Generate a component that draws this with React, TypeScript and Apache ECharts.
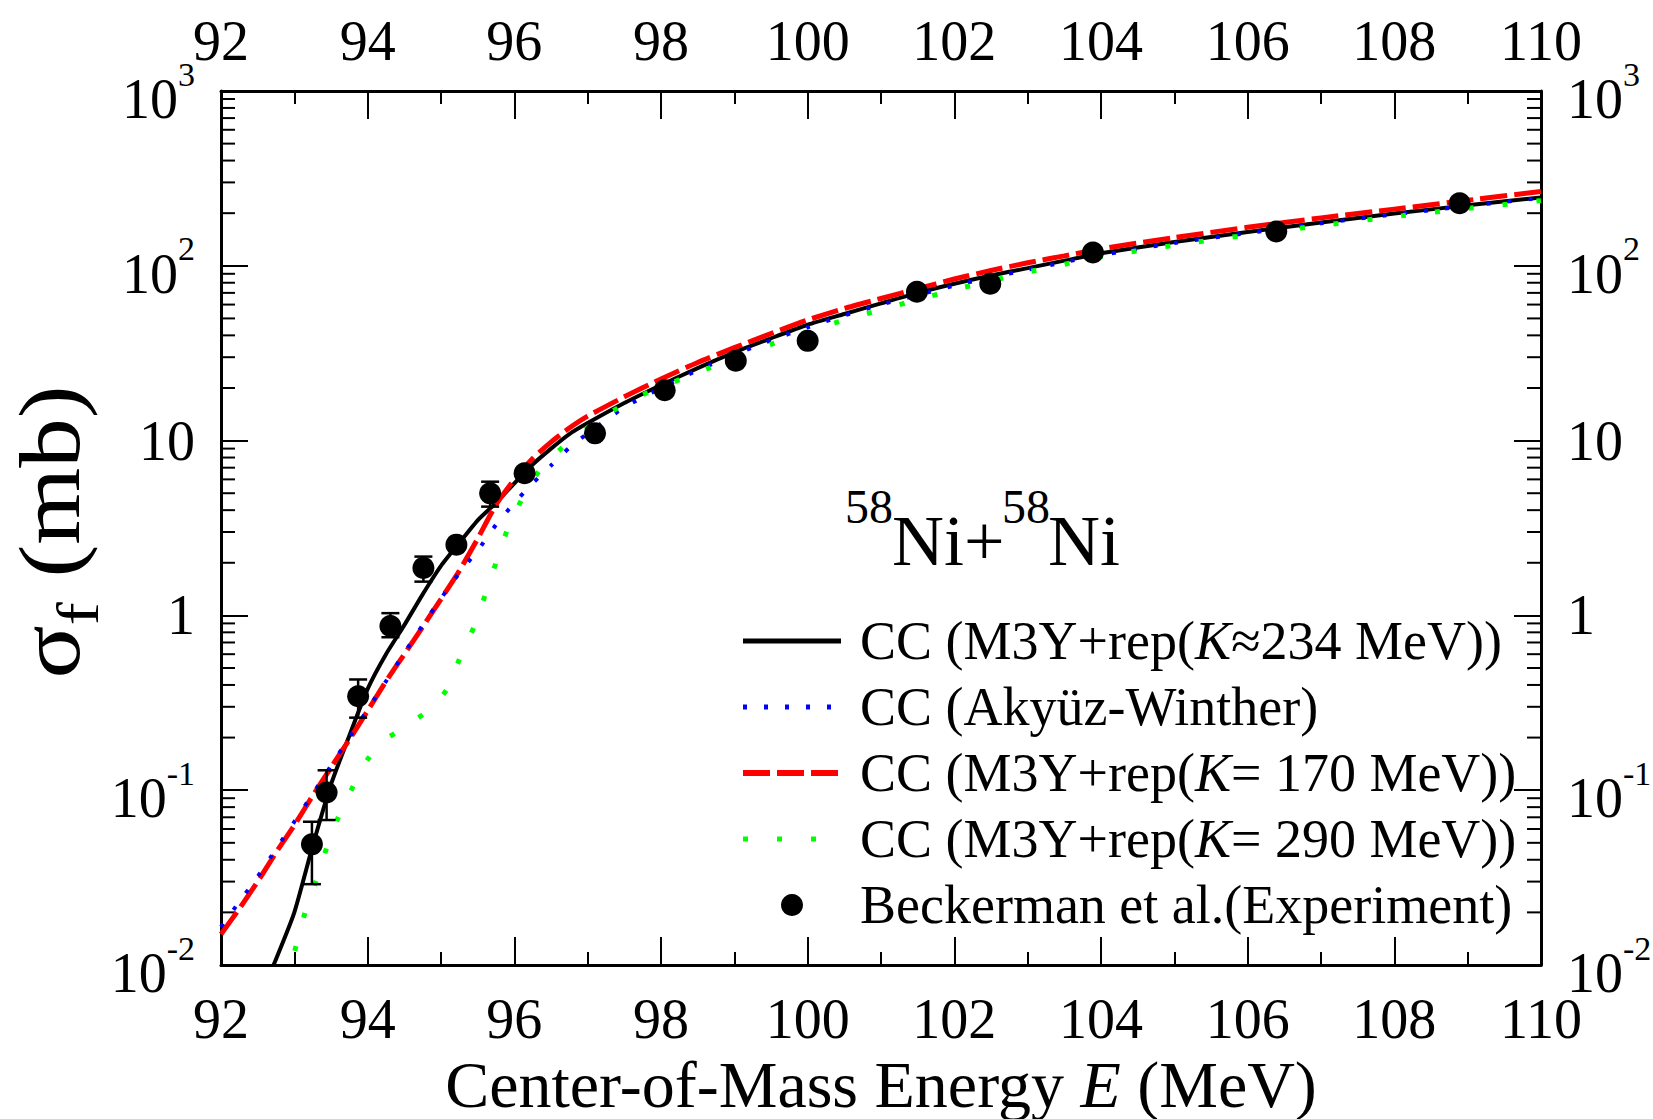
import React, { useEffect, useRef } from "react";
import * as echarts from "echarts";

const FONT = "'Liberation Serif', 'Times New Roman', Times, serif";

// CC (M3Y+rep(K≈234 MeV)) — black solid
const k234E = [92.6, 92.75, 93.0, 93.25, 93.5, 93.75, 94.0, 94.25, 94.5, 94.75, 95.0, 95.25, 95.5, 95.75, 96.0, 96.25, 96.5, 96.75, 97.0, 97.5, 98.0, 98.5, 99.0, 99.5, 100.0, 100.5, 101.0, 101.5, 102.0, 102.5, 103.0, 103.5, 104.0, 105, 106, 107, 108, 109, 110];
const k234S = [0.0078, 0.0108, 0.02, 0.048, 0.108, 0.205, 0.38, 0.6, 0.88, 1.32, 1.92, 2.6, 3.5, 4.4, 5.7, 7.3, 9.0, 10.9, 12.6, 16.4, 20.8, 26, 32, 38.5, 46, 53, 61, 70, 79, 88, 97, 107, 118, 137, 156, 177, 199, 222, 246];

// CC (M3Y+rep(K= 170 MeV)) — red dashed, and CC (Akyüz-Winther) — blue dotted
const k170E = [92.0, 92.25, 92.5, 92.75, 93.0, 93.25, 93.5, 93.75, 94.0, 94.25, 94.5, 94.75, 95.0, 95.25, 95.5, 95.75, 96.0, 96.25, 96.5, 96.75, 97.0, 97.5, 98.0, 98.5, 99.0, 99.5, 100.0, 100.5, 101.0, 101.5, 102.0, 102.5, 103.0, 103.5, 104.0, 105, 106, 107, 108, 109, 110];
const k170S = [0.015, 0.021, 0.03, 0.044, 0.063, 0.093, 0.135, 0.195, 0.285, 0.42, 0.6, 0.86, 1.24, 1.8, 2.75, 4.3, 6.0, 7.9, 9.8, 11.8, 13.8, 17.8, 22.5, 28, 34, 41, 49, 57, 65, 74, 84, 94, 104, 114, 125, 145, 166, 188, 211, 237, 266];
const awE = k170E;
const awS = [0.0165, 0.023, 0.032, 0.046, 0.066, 0.095, 0.138, 0.2, 0.29, 0.42, 0.61, 0.88, 1.25, 1.75, 2.35, 3.3, 4.4, 5.7, 7.2, 9.1, 11.0, 15.5, 20.0, 25.3, 31, 37.5, 44.5, 52, 60, 68, 77, 86, 95, 105, 115, 135, 154, 175, 197, 220, 245];

// CC (M3Y+rep(K= 290 MeV)) — green sparse dots
const k290E = [92.9, 93.0, 93.15, 93.3, 93.45, 93.6, 93.8, 94.0, 94.2, 94.4, 94.6, 94.8, 95.0, 95.1, 95.25, 95.45, 95.6, 95.75, 95.9, 96.1, 96.35, 96.7, 97.1, 97.5, 97.85, 98.5, 99.0, 99.5, 100.0, 100.5, 101.0, 101.5, 102.0, 102.5, 103.0, 103.5, 104.0, 105, 106, 107, 108, 109, 110];
const k290S = [0.0078, 0.0118, 0.0202, 0.0306, 0.048, 0.07, 0.105, 0.15, 0.19, 0.215, 0.245, 0.28, 0.34, 0.39, 0.56, 0.86, 1.3, 2.0, 3.05, 4.6, 6.8, 9.5, 12.7, 16.2, 19.1, 24.5, 29.5, 35.5, 42, 49, 56, 64, 73, 82, 92, 102, 113, 131, 150, 170, 191, 213, 236];

// Beckerman et al. (Experiment)
const expE = [93.24, 93.44, 93.87, 94.31, 94.76, 95.21, 95.67, 96.14, 97.1, 98.05, 99.02, 100.0, 101.49, 102.49, 103.89, 106.39, 108.89];
const expS = [0.049, 0.097, 0.345, 0.87, 1.87, 2.54, 4.99, 6.5, 11.0, 19.4, 28.6, 37.2, 71, 79, 119, 157, 228];
const errE = [93.24, 93.44, 93.87, 94.31, 94.76, 95.67];
const errLo = [0.029, 0.0675, 0.26, 0.75, 1.56, 4.19];
const errHi = [0.066, 0.13, 0.43, 1.03, 2.17, 5.82];

// minor log ticks (2..9 per decade)
const decadeExps = [-2, -1, 0, 1, 2];
const decadeMults = [2, 3, 4, 5, 6, 7, 8, 9];

const NAME_K234 = "CC (M3Y+rep(K≈234 MeV))";
const NAME_AW = "CC (Akyüz-Winther)";
const NAME_K170 = "CC (M3Y+rep(K= 170 MeV))";
const NAME_K290 = "CC (M3Y+rep(K= 290 MeV))";
const NAME_EXP = "Beckerman et al.(Experiment)";

const zip = (a: number[], b: number[]) => a.map((x, i) => [x, b[i]]);

const yRich = {
  n: { fontFamily: FONT, fontSize: 56, color: "#000" },
  b: { fontFamily: FONT, fontSize: 56, color: "#000", padding: [16, 0, 0, 0] },
  s: { fontFamily: FONT, fontSize: 34, color: "#000", verticalAlign: "top", padding: [2, 0, 0, 0] },
};
const yFmt = (v: number) => {
  const e = Math.round(Math.log10(v));
  if (e === 0) return "{n|1}";
  if (e === 1) return "{n|10}";
  return "{b|10}{s|" + e + "}";
};

const xAxisBase = (pos: string, margin: number) => ({
  type: "value",
  position: pos,
  min: 92,
  max: 110,
  interval: 2,
  axisLine: { show: true, onZero: false, lineStyle: { color: "#000", width: 3 } },
  axisTick: { show: true, inside: true, length: 28, lineStyle: { color: "#000", width: 2 } },
  minorTick: { show: true, splitNumber: 2, length: 13, lineStyle: { color: "#000", width: 2 } },
  splitLine: { show: false },
  minorSplitLine: { show: false },
  axisLabel: { show: true, margin, fontFamily: FONT, fontSize: 56, color: "#000", showMinLabel: true, showMaxLabel: true },
});

const yAxisBase = (pos: string, margin: number) => ({
  type: "log",
  logBase: 10,
  min: 0.01,
  max: 1000,
  position: pos,
  axisLine: { show: true, onZero: false, lineStyle: { color: "#000", width: 3 } },
  axisTick: { show: true, inside: true, length: 27, lineStyle: { color: "#000", width: 2 } },
  minorTick: { show: false },
  splitLine: { show: false },
  axisLabel: { show: true, margin, formatter: yFmt, rich: yRich, fontFamily: FONT, fontSize: 56, color: "#000", showMinLabel: true, showMaxLabel: true },
});

export default function App() {
  const ref = useRef<HTMLDivElement>(null);
  useEffect(() => {
    const el = ref.current!;
    const chart = echarts.init(el, null, { renderer: "svg" });

    const minorData: number[][] = [];
    decadeExps.forEach((d) => decadeMults.forEach((m) => minorData.push([92, m * Math.pow(10, d)])));

    const legendRich = {
      i: { fontFamily: FONT, fontSize: 54, fontStyle: "italic", color: "#000" },
    };
    const hiddenSym = { opacity: 0 };

    const option: any = {
      animation: false,
      backgroundColor: "#ffffff",
      grid: { left: 221, right: 112, top: 91, bottom: 154, containLabel: false, outerBoundsMode: "none" },
      xAxis: [
        {
          ...xAxisBase("bottom", 26),
          name: "{n|Center-of-Mass Energy }{i|E}{n| (MeV)}",
          nameLocation: "middle",
          nameGap: 86,
          nameMoveOverlap: false,
          nameTextStyle: {
            rich: {
              n: { fontFamily: FONT, fontSize: 66, color: "#000" },
              i: { fontFamily: FONT, fontSize: 66, fontStyle: "italic", color: "#000" },
            },
          },
        },
        xAxisBase("top", 22),
      ],
      yAxis: [yAxisBase("left", 26), yAxisBase("right", 26)],
      legend: {
        orient: "vertical",
        left: 735,
        top: 609,
        itemWidth: 98,
        itemHeight: 22,
        itemGap: 12,
        selectedMode: false,
        formatter: (name: string) => name.replace("rep(K", "rep({i|K}"),
        textStyle: { fontFamily: FONT, fontSize: 54, color: "#000", padding: [0, 0, 0, 14], rich: legendRich },
        data: [
          { name: NAME_K234, lineStyle: { width: 5 }, itemStyle: hiddenSym },
          { name: NAME_AW, lineStyle: { width: 5 }, itemStyle: hiddenSym },
          { name: NAME_K170, lineStyle: { width: 6 }, itemStyle: hiddenSym },
          { name: NAME_K290, lineStyle: { width: 5 }, itemStyle: hiddenSym },
          { name: NAME_EXP, icon: "circle", itemStyle: { opacity: 1 } },
        ],
      },
      graphic: [
        {
          type: "text",
          x: 57,
          y: 532,
          rotation: Math.PI / 2,
          scaleX: 1.15,
          style: {
            text: "{a|σ}{f|f}{a| (mb)}",
            align: "center",
            verticalAlign: "middle",
            fill: "#000",
            rich: {
              a: { fontFamily: FONT, fontSize: 86, fill: "#000", padding: [0, 0, 15, 0] },
              f: { fontFamily: FONT, fontSize: 60, fill: "#000", verticalAlign: "bottom" },
            },
          },
        },
        { type: "text", x: 845, y: 506, style: { text: "58", fontFamily: FONT, fontSize: 48, fill: "#000", align: "left", verticalAlign: "middle" } },
        { type: "text", x: 892, y: 541, style: { text: "Ni+", fontFamily: FONT, fontSize: 72, fill: "#000", align: "left", verticalAlign: "middle" } },
        { type: "text", x: 1002, y: 506, style: { text: "58", fontFamily: FONT, fontSize: 48, fill: "#000", align: "left", verticalAlign: "middle" } },
        { type: "text", x: 1048, y: 541, style: { text: "Ni", fontFamily: FONT, fontSize: 72, fill: "#000", align: "left", verticalAlign: "middle" } },
      ],
      series: [
        {
          type: "custom",
          silent: true,
          coordinateSystem: "cartesian2d",
          xAxisIndex: 0,
          yAxisIndex: 0,
          clip: false,
          encode: { x: 0, y: 1 },
          data: minorData,
          renderItem: (params: any, api: any) => {
            const v = api.value(1);
            const pL = api.coord([92, v]);
            const pR = api.coord([110, v]);
            const st = { stroke: "#000", lineWidth: 2 };
            return {
              type: "group",
              children: [
                { type: "line", shape: { x1: pL[0], y1: pL[1], x2: pL[0] + 14, y2: pL[1] }, style: st },
                { type: "line", shape: { x1: pR[0] - 14, y1: pR[1], x2: pR[0], y2: pR[1] }, style: st },
              ],
            };
          },
          z: 1,
        },
        {
          name: NAME_K234,
          type: "line",
          data: zip(k234E, k234S),
          showSymbol: false,
          symbol: "none",
          smooth: 0.2,
          clip: true,
          lineStyle: { color: "#000000", width: 4, type: "solid" },
          itemStyle: { color: "#000000" },
          z: 2,
        },
        {
          name: NAME_K170,
          type: "line",
          data: zip(k170E, k170S),
          showSymbol: false,
          symbol: "none",
          smooth: 0.2,
          clip: true,
          lineStyle: { color: "#ff0000", width: 5, type: [27, 7], cap: "butt" },
          itemStyle: { color: "#ff0000" },
          z: 3,
        },
        {
          name: NAME_AW,
          type: "line",
          data: zip(awE, awS),
          showSymbol: false,
          symbol: "none",
          smooth: 0.2,
          clip: true,
          lineStyle: { color: "#0000ff", width: 4, type: [4, 17], cap: "butt" },
          itemStyle: { color: "#0000ff" },
          z: 4,
        },
        {
          name: NAME_K290,
          type: "line",
          data: zip(k290E, k290S),
          showSymbol: false,
          symbol: "none",
          smooth: 0.2,
          clip: true,
          lineStyle: { color: "#00ff00", width: 5, type: [5, 29], cap: "butt" },
          itemStyle: { color: "#00ff00" },
          z: 4,
        },
        {
          type: "custom",
          coordinateSystem: "cartesian2d",
          silent: true,
          encode: { x: 0, y: [1, 2] },
          data: errE.map((e, i) => [e, errLo[i], errHi[i]]),
          renderItem: (params: any, api: any) => {
            const x = api.value(0);
            const lo = api.coord([x, api.value(1)]);
            const hi = api.coord([x, api.value(2)]);
            const st = { stroke: "#000", lineWidth: 2.5 };
            const w = 9;
            return {
              type: "group",
              children: [
                { type: "line", shape: { x1: lo[0], y1: lo[1], x2: hi[0], y2: hi[1] }, style: st },
                { type: "line", shape: { x1: lo[0] - w, y1: lo[1], x2: lo[0] + w, y2: lo[1] }, style: st },
                { type: "line", shape: { x1: hi[0] - w, y1: hi[1], x2: hi[0] + w, y2: hi[1] }, style: st },
              ],
            };
          },
          z: 5,
        },
        {
          name: NAME_EXP,
          type: "scatter",
          data: zip(expE, expS),
          symbol: "circle",
          symbolSize: 22,
          itemStyle: { color: "#000000", opacity: 1 },
          z: 6,
        },
      ],
    };

    chart.setOption(option);
    return () => chart.dispose();
  }, []);

  return (
    <div
      ref={ref}
      style={{ position: "fixed", left: 0, top: 0, width: 1653, height: 1119, background: "#fff" }}
    />
  );
}
